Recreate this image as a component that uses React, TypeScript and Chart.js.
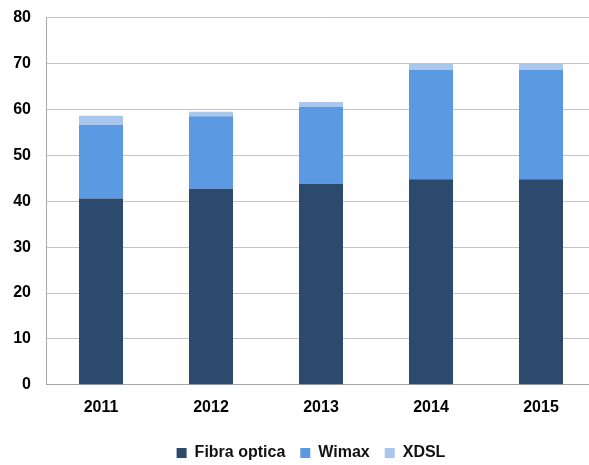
import React, { useEffect, useRef } from "react";
import { Chart, registerables } from "chart.js";

Chart.register(...registerables);

const categories = ["2011", "2012", "2013", "2014", "2015"];
const fibraOptica = [40.6, 42.7, 43.8, 44.8, 44.8];
const wimax = [16, 15.8, 16.8, 23.8, 23.8];
const xdsl = [2, 1, 1, 1.3, 1.3];
const yTicks = [0, 10, 20, 30, 40, 50, 60, 70, 80];

const FONT = "'Liberation Sans', Arial, Helvetica, sans-serif";

const labelAreaFix = {
  id: "labelAreaFix",
  beforeDraw(chart: any) {
    const y = chart.scales.y;
    if (y) y.left = 0;
  },
};

export default function App() {
  const ref = useRef<HTMLCanvasElement | null>(null);
  useEffect(() => {
    if (!ref.current) return;
    const chart = new Chart(ref.current, {
      type: "bar",
      data: {
        labels: categories,
        datasets: [
          { label: "Fibra optica", data: fibraOptica, backgroundColor: "#2c4a6e" },
          { label: "Wimax", data: wimax, backgroundColor: "#5b9ae2" },
          { label: "XDSL", data: xdsl, backgroundColor: "#a9c7ec" },
        ],
      },
      plugins: [labelAreaFix],
      options: {
        animation: false,
        responsive: false,
        maintainAspectRatio: false,
        layout: { padding: { left: 26, right: 4, top: 0, bottom: -6 } },
        datasets: { bar: { categoryPercentage: 1, barPercentage: 0.4 } },
        plugins: {
          tooltip: { enabled: false },
          legend: {
            position: "bottom",
            labels: {
              boxWidth: 10,
              boxHeight: 10,
              padding: 15,
              color: "#111",
              font: { family: FONT, size: 16, weight: "bold" },
            },
          },
        },
        scales: {
          x: {
            stacked: true,
            grid: { display: false, drawTicks: false },
            border: { display: true, color: "#a8a8a8" },
            ticks: { color: "#000", padding: 13, font: { family: FONT, size: 16, weight: "bold" } },
          },
          y: {
            stacked: true,
            min: 0,
            max: 80,
            afterFit: (s: any) => { s.width = 20; },
            afterBuildTicks: (s: any) => { s.ticks = yTicks.map((v) => ({ value: v })); },
            grid: { color: "#c4c4c4", drawTicks: true, tickLength: 7, tickColor: "rgba(0,0,0,0)" },
            border: { display: true, color: "#a8a8a8" },
            ticks: { color: "#000", padding: 8, font: { family: FONT, size: 16, weight: "bold" } },
          },
        },
      },
    });
    return () => chart.destroy();
  }, []);
  return (
    <div style={{ position: "absolute", left: 0, top: 0, width: 589, height: 465, overflow: "hidden", background: "#fff" }}>
      <canvas ref={ref} width={600} height={465} style={{ display: "block" }} />
    </div>
  );
}
